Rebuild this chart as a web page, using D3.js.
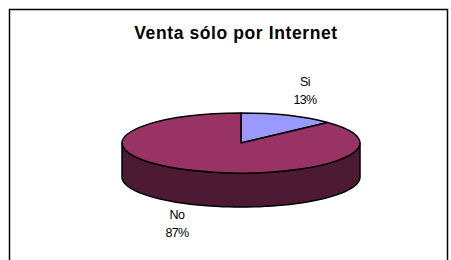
<!DOCTYPE html>
<html>
<head>
<meta charset="utf-8">
<script src="https://cdn.jsdelivr.net/npm/d3@7"></script>
<style>
  body { margin: 0; background: #fff; }
  svg { display: block; font-family: "Liberation Sans", Arial, sans-serif; }
</style>
</head>
<body>
<div id="chart"></div>
<script>
const categories = ["Si", "No"];
const values = [13, 87];
const percentLabels = ["13%", "87%"];
const topColors = ["#9999FF", "#993366"];
const sideColors = ["#4D4D80", "#4D1A33"];

const width = 451, height = 260;
const cx = 241, cy = 143, rx = 119, ry = 30, depth = 34;

const svg = d3.select("#chart").append("svg")
  .attr("width", width).attr("height", height);

// frame
svg.append("rect")
  .attr("x", 9.5).attr("y", 9.5)
  .attr("width", 438).attr("height", 270)
  .attr("fill", "none").attr("stroke", "#000").attr("stroke-width", 1.5);

svg.append("text")
  .attr("x", 236).attr("y", 39)
  .attr("text-anchor", "middle")
  .style("font-size", "17.5px").style("font-weight", "bold")
  .style("letter-spacing", "0.6px")
  .text("Venta sólo por Internet");

const pie = d3.pie().sort(null).value(d => d);
const arcs = pie(values);

// point on ellipse; angle measured clockwise from top, like d3.arc
const px = a => cx + rx * Math.sin(a);
const py = (a, dy) => cy - ry * Math.cos(a) + dy;

// front side walls (visible between PI/2 and 3PI/2)
arcs.forEach((d, i) => {
  const a0 = Math.max(d.startAngle, Math.PI / 2);
  const a1 = Math.min(d.endAngle, 3 * Math.PI / 2);
  if (a1 <= a0) return;
  const p = d3.path();
  p.moveTo(px(a0), py(a0, 0));
  const steps = 60;
  for (let k = 1; k <= steps; k++) {
    const a = a0 + (a1 - a0) * k / steps;
    p.lineTo(px(a), py(a, 0));
  }
  for (let k = steps; k >= 0; k--) {
    const a = a0 + (a1 - a0) * k / steps;
    p.lineTo(px(a), py(a, depth));
  }
  p.closePath();
  svg.append("path")
    .attr("d", p.toString())
    .attr("fill", sideColors[i])
    .attr("stroke", "#000").attr("stroke-width", 1.5)
    .attr("stroke-linejoin", "round");
});

// top face
const arc = d3.arc().innerRadius(0).outerRadius(rx);
const topFace = svg.append("g")
  .attr("transform", `translate(${cx},${cy}) scale(1,${ry / rx})`);
topFace.selectAll("path")
  .data(arcs)
  .enter().append("path")
  .attr("d", arc)
  .attr("fill", (d, i) => topColors[i])
  .attr("stroke", "#000").attr("stroke-width", 1.5)
  .attr("stroke-linejoin", "round")
  .attr("vector-effect", "non-scaling-stroke");

// labels
const labelPos = [[305, 86], [177, 219]];
arcs.forEach((d, i) => {
  const t = svg.append("text")
    .attr("x", labelPos[i][0]).attr("y", labelPos[i][1])
    .attr("text-anchor", "middle")
    .style("font-size", "12.5px").style("letter-spacing", "-0.6px")
    .attr("fill", "#000");
  t.append("tspan").attr("x", labelPos[i][0]).text(categories[i]);
  t.append("tspan").attr("x", labelPos[i][0]).attr("dy", 17.5).text(percentLabels[i]);
});
</script>
</body>
</html>
